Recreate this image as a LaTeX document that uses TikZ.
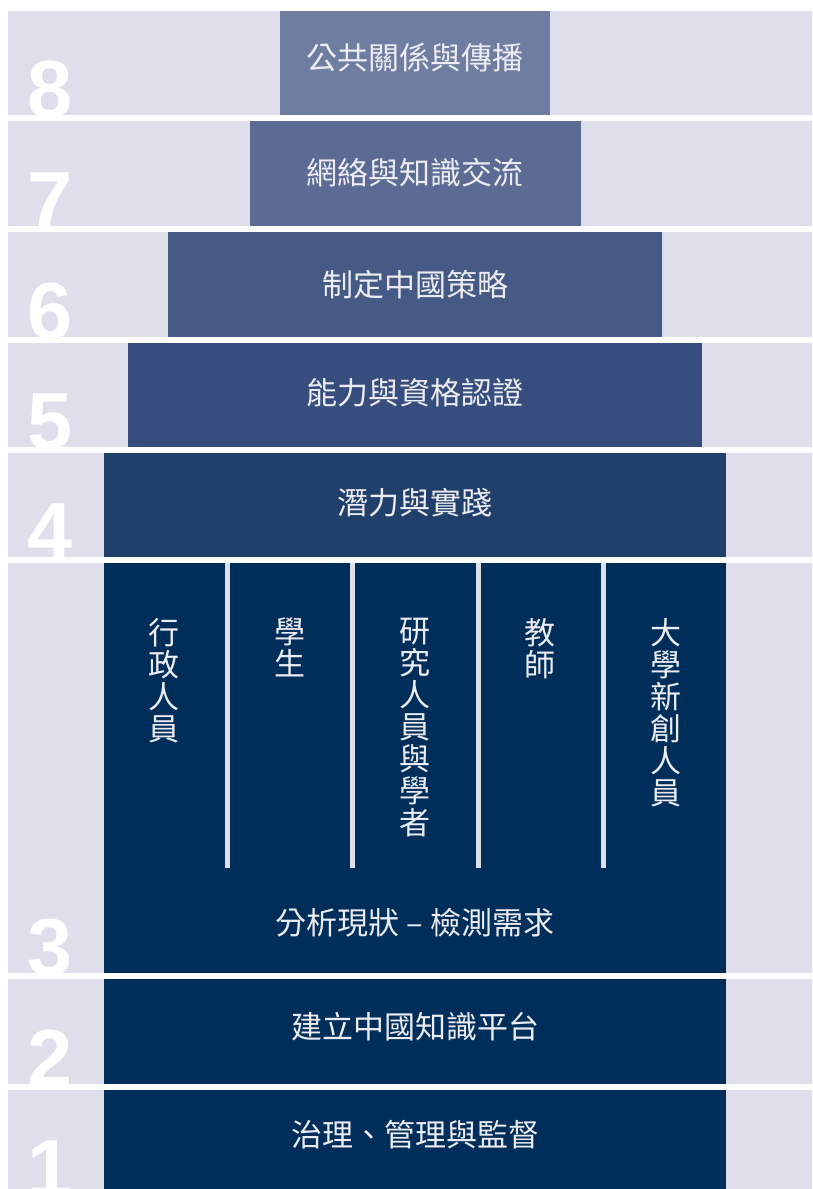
\documentclass[tikz,border=0pt]{standalone}
\usepackage{fontspec}
\usepackage{tikz}
\setmainfont{Liberation Sans}
\newfontfamily\cjk{Noto Sans CJK TC}
\definecolor{faixa}{RGB}{223,223,235}
\definecolor{texto}{RGB}{236,236,244}
\newcommand{\corFaixa}{faixa}
\newcommand{\corH}{nivelH}
\newcommand{\corG}{nivelG}
\newcommand{\corF}{nivelF}
\newcommand{\corE}{nivelE}
\newcommand{\corD}{nivelD}
\newcommand{\corBase}{nivelBase}
\definecolor{nivelH}{RGB}{111,125,160}
\definecolor{nivelG}{RGB}{91,107,148}
\definecolor{nivelF}{RGB}{70,90,134}
\definecolor{nivelE}{RGB}{54,77,125}
\definecolor{nivelD}{RGB}{33,63,107}
\definecolor{nivelBase}{RGB}{0,46,91}

\begin{document}
\begin{tikzpicture}[x=1pt, y=-1pt,
    rotulo/.style={text=texto, font=\cjk\fontsize{31}{32}\selectfont, inner sep=0pt},
    coluna/.style={rotulo, anchor=north, align=center},
    numero/.style={text=white, font=\bfseries\fontsize{81}{81}\selectfont, anchor=base west, inner sep=0pt}]
        \useasboundingbox (0,0) rectangle (812,1189);
        \fill [white] (0,0) rectangle (812,1189);

          % nivel 8
        \fill [\corFaixa] (8,11) rectangle (812,115);
        \fill [\corH] (280,11) rectangle (550,115);
        \node [rotulo] (r8) at (415,57) {公共關係與傳播};
        \node [numero] (n8) at (27,117) {8};

          % nivel 7
        \fill [\corFaixa] (8,121) rectangle (812,226);
        \fill [\corG] (250,121) rectangle (581,226);
        \node [rotulo] (r7) at (415,173) {網絡與知識交流};
        \node [numero] (n7) at (27,228) {7};

          % nivel 6
        \fill [\corFaixa] (8,232) rectangle (812,337);
        \fill [\corF] (168,232) rectangle (662,337);
        \node [rotulo] (r6) at (415,285) {制定中國策略};
        \node [numero] (n6) at (27,339) {6};

          % nivel 5
        \fill [\corFaixa] (8,343) rectangle (812,447);
        \fill [\corE] (128,343) rectangle (702,447);
        \node [rotulo] (r5) at (415,393) {能力與資格認證};
        \node [numero] (n5) at (27,449) {5};

          % nivel 4
        \fill [\corFaixa] (8,453) rectangle (812,557);
        \fill [\corD] (104,453) rectangle (726,557);
        \node [rotulo] (r4) at (415,503) {潛力與實踐};
        \node [numero] (n4) at (27,559) {4};

          % nivel 3
        \fill [\corFaixa] (8,563) rectangle (812,973);
        \fill [\corBase] (104,563) rectangle (726,973);
        \fill [\corFaixa] (224.5,563) rectangle (229.5,868);
        \fill [\corFaixa] (350,563) rectangle (355,868);
        \fill [\corFaixa] (475.5,563) rectangle (480.5,868);
        \fill [\corFaixa] (601,563) rectangle (606,868);
        \node [coluna] (c1) at (164,618) {行\\政\\人\\員};
        \node [coluna] (c2) at (290,618) {學\\生};
        \node [coluna] (c3) at (415,618) {研\\究\\人\\員\\與\\學\\者};
        \node [coluna] (c4) at (540,618) {教\\師};
        \node [coluna] (c5) at (666,618) {大\\學\\新\\創\\人\\員};
        \node [rotulo] (r3) at (415,923) {分析現狀 – 檢測需求};
        \node [numero] (n3) at (27,975) {3};

          % nivel 2
        \fill [\corFaixa] (8,979) rectangle (812,1084);
        \fill [\corBase] (104,979) rectangle (726,1084);
        \node [rotulo] (r2) at (415,1027) {建立中國知識平台};
        \node [numero] (n2) at (27,1086) {2};

          % nivel 1
        \fill [\corFaixa] (8,1090) rectangle (812,1189);
        \fill [\corBase] (104,1090) rectangle (726,1189);
        \node [rotulo] (r1) at (415,1135) {治理、管理與監督};
        \node [numero] (n1) at (27,1196) {1};
    \end{tikzpicture}
\end{document}
